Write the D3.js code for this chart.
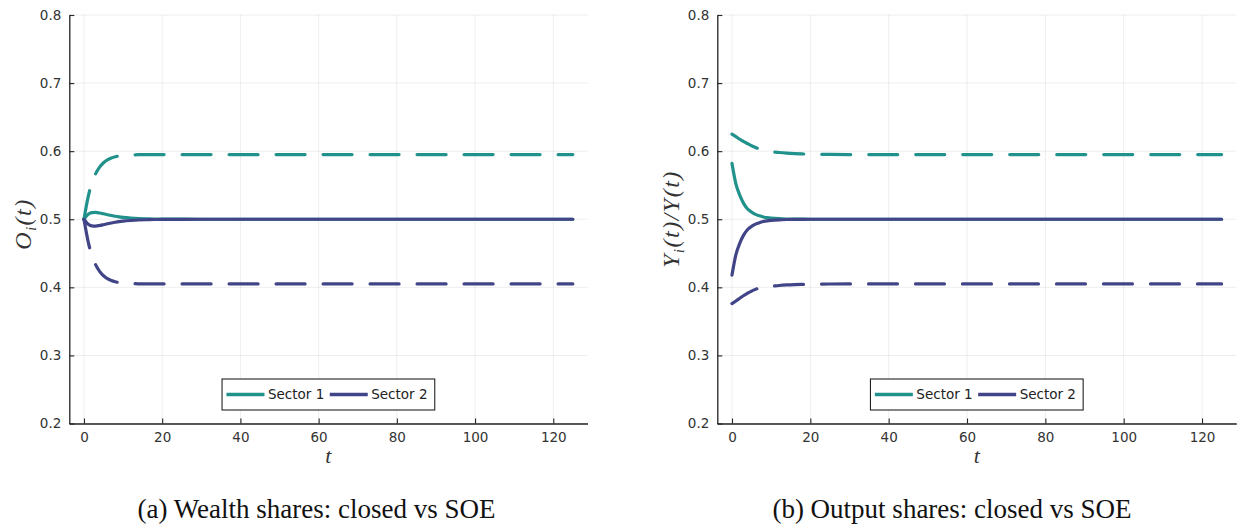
<!DOCTYPE html>
<html>
<head>
<meta charset="utf-8">
<script src="https://cdn.jsdelivr.net/npm/d3@7"></script>
<style>
  html, body { margin: 0; padding: 0; background: #fff; }
  svg { display: block; }
</style>
</head>
<body>
<svg id="chart" width="1239" height="525"></svg>
<script>
// ---------------- data ----------------
const t = [0,1,2,3,4,5,6,7,8,9,10,12,14,16,18,20,25,30,40,50,60,70,80,90,100,110,120,125];

// Panel (a): wealth shares
const wealthClosed1 = [0.500,0.5070,0.5097,0.5100,0.5092,0.5080,0.5067,0.5055,0.5044,0.5035,0.5028,0.5018,0.5011,0.5007,0.5004,0.5003,0.5001,0.5000,0.5,0.5,0.5,0.5,0.5,0.5,0.5,0.5,0.5,0.5];
const wealthClosed2 = [0.500,0.4930,0.4903,0.4900,0.4908,0.4920,0.4933,0.4945,0.4956,0.4965,0.4972,0.4982,0.4989,0.4993,0.4996,0.4997,0.4999,0.5000,0.5,0.5,0.5,0.5,0.5,0.5,0.5,0.5,0.5,0.5];
const wealthSOE1    = [0.500,0.5310,0.5530,0.5670,0.5765,0.5830,0.5873,0.5900,0.5918,0.5930,0.5938,0.5945,0.5948,0.5950,0.5950,0.5950,0.595,0.595,0.595,0.595,0.595,0.595,0.595,0.595,0.595,0.595,0.595,0.595];
const wealthSOE2    = [0.500,0.4690,0.4470,0.4330,0.4235,0.4170,0.4127,0.4100,0.4082,0.4070,0.4062,0.4055,0.4052,0.4050,0.4050,0.4050,0.405,0.405,0.405,0.405,0.405,0.405,0.405,0.405,0.405,0.405,0.405,0.405];

// Panel (b): output shares
const outputClosed1 = [0.582,0.5520,0.5350,0.5230,0.5150,0.5105,0.5072,0.5050,0.5034,0.5023,0.5016,0.5008,0.5004,0.5002,0.5001,0.5000,0.5,0.5,0.5,0.5,0.5,0.5,0.5,0.5,0.5,0.5,0.5,0.5];
const outputClosed2 = [0.418,0.4480,0.4650,0.4770,0.4850,0.4895,0.4928,0.4950,0.4966,0.4977,0.4984,0.4992,0.4996,0.4998,0.4999,0.5000,0.5,0.5,0.5,0.5,0.5,0.5,0.5,0.5,0.5,0.5,0.5,0.5];
const outputSOE1    = [0.625,0.6213,0.6175,0.6140,0.6110,0.6080,0.6055,0.6033,0.6015,0.6003,0.5993,0.5980,0.5970,0.5963,0.5959,0.5956,0.5952,0.595,0.595,0.595,0.595,0.595,0.595,0.595,0.595,0.595,0.595,0.595];
const outputSOE2    = [0.376,0.3800,0.3840,0.3880,0.3915,0.3945,0.3970,0.3990,0.4002,0.4010,0.4015,0.4027,0.4035,0.4040,0.4043,0.4046,0.4049,0.405,0.405,0.405,0.405,0.405,0.405,0.405,0.405,0.405,0.405,0.405];

const seriesNames = ["Sector 1", "Sector 2"];
const xTicks = [0,20,40,60,80,100,120];
const yTicks = [0.2,0.3,0.4,0.5,0.6,0.7,0.8];
const captions = ["(a) Wealth shares: closed vs SOE", "(b) Output shares: closed vs SOE"];

// ---------------- styles ----------------
const colors = ["#21918c", "#414487"];
const svg = d3.select("#chart");

const panels = [
  { x0: 69.3, x1: 587.5, solid: [wealthClosed1, wealthClosed2], dashed: [wealthSOE1, wealthSOE2],
    ylab: [["O",""],["i","sub"],["(t)",""]], ylabY: 224, caption: captions[0] },
  { x0: 717.3, x1: 1236.3, solid: [outputClosed1, outputClosed2], dashed: [outputSOE1, outputSOE2],
    ylab: [["Y",""],["i","sub"],["(t)/Y(t)",""]], ylabY: 219, caption: captions[1] }
];

const yTop = 15, yBot = 423.5;

panels.forEach((p, pi) => {
  const g = svg.append("g");
  const x = d3.scaleLinear().domain([-3.75, 128.75]).range([p.x0, p.x1]);
  const y = d3.scaleLinear().domain([0.2, 0.8]).range([yBot, yTop]);

  // grid
  g.append("g").selectAll("line.vx").data(xTicks).join("line")
    .attr("x1", d => x(d)).attr("x2", d => x(d)).attr("y1", yTop).attr("y2", yBot)
    .attr("stroke", "#000").attr("stroke-opacity", 0.09).attr("stroke-width", 0.8);
  g.append("g").selectAll("line.hy").data(yTicks).join("line")
    .attr("x1", p.x0).attr("x2", p.x1).attr("y1", d => y(d)).attr("y2", d => y(d))
    .attr("stroke", "#000").attr("stroke-opacity", 0.09).attr("stroke-width", 0.8);

  const line = d3.line().x((d, i) => x(t[i])).y(d => y(d)).curve(d3.curveMonotoneX);

  // solid (closed)
  p.solid.forEach((s, si) => {
    g.append("path").datum(s).attr("d", line)
      .attr("fill", "none").attr("stroke", colors[si]).attr("stroke-width", 3.2)
      .attr("stroke-linecap", "round").attr("stroke-linejoin", "round");
  });
  // dashed (SOE)
  p.dashed.forEach((s, si) => {
    g.append("path").datum(s).attr("d", line)
      .attr("fill", "none").attr("stroke", colors[si]).attr("stroke-width", 3.2)
      .attr("stroke-dasharray", "29 18").attr("stroke-linecap", "round");
  });

  // axes
  const xAxis = d3.axisBottom(x).tickValues(xTicks).tickFormat(d3.format("d"))
    .tickSizeInner(-5).tickSizeOuter(0).tickPadding(9);
  const yAxis = d3.axisLeft(y).tickValues(yTicks).tickFormat(d3.format(".1f"))
    .tickSizeInner(-5).tickSizeOuter(0).tickPadding(8);

  const gx = g.append("g").attr("transform", `translate(0,${yBot})`).call(xAxis);
  const gy = g.append("g").attr("transform", `translate(${p.x0},0)`).call(yAxis);
  [gx, gy].forEach(ax => {
    ax.select(".domain").attr("stroke", "#222").attr("stroke-width", 1.3);
    ax.selectAll(".tick line").attr("stroke", "#222").attr("stroke-width", 1.1);
    ax.selectAll(".tick text").attr("fill", "#333")
      .style("font-family", "'DejaVu Sans', sans-serif").style("font-size", "13.5px");
  });

  // axis labels
  const cx = (p.x0 + p.x1) / 2;
  g.append("text").attr("x", cx).attr("y", 463).attr("text-anchor", "middle")
    .style("font-family", "'Liberation Serif', serif").style("font-style", "italic")
    .style("font-size", "22px").attr("fill", "#333").text("t");

  const yl = g.append("text")
    .attr("transform", `translate(${p.x0 - 38},${p.ylabY}) rotate(-90)`)
    .attr("text-anchor", "middle")
    .style("font-family", "'Liberation Serif', serif").style("font-style", "italic")
    .style("font-size", "24px").style("letter-spacing", "1.5px").attr("fill", "#333");
  p.ylab.forEach(([txt, kind], k) => {
    const ts = yl.append("tspan").text(txt);
    if (kind === "sub") ts.attr("dy", 5).style("font-size", "14px");
    else if (k > 0 && p.ylab[k-1][1] === "sub") ts.attr("dy", -5);
  });

  // legend
  const lw = 212.7, lh = 31;
  const lx = cx - lw / 2, ly = 379;
  const lg = g.append("g").attr("transform", `translate(${lx},${ly})`);
  lg.append("rect").attr("width", lw).attr("height", lh)
    .attr("fill", "#fff").attr("stroke", "#222").attr("stroke-width", 1.1);
  const offs = [4.4, 107.7];
  seriesNames.forEach((nm, si) => {
    lg.append("line").attr("x1", offs[si]).attr("x2", offs[si] + 38)
      .attr("y1", lh / 2).attr("y2", lh / 2)
      .attr("stroke", colors[si]).attr("stroke-width", 3.4);
    lg.append("text").attr("x", offs[si] + 41.5).attr("y", lh / 2).attr("dy", "0.35em")
      .style("font-family", "'DejaVu Sans', sans-serif").style("font-size", "13.5px")
      .attr("fill", "#222").text(nm);
  });

  // caption
  svg.append("text").attr("x", pi === 0 ? 316.5 : 952).attr("y", 518).attr("text-anchor", "middle")
    .style("font-family", "'Liberation Serif', serif").style("font-size", "27px")
    .attr("fill", "#111").text(p.caption);
});
</script>
</body>
</html>
